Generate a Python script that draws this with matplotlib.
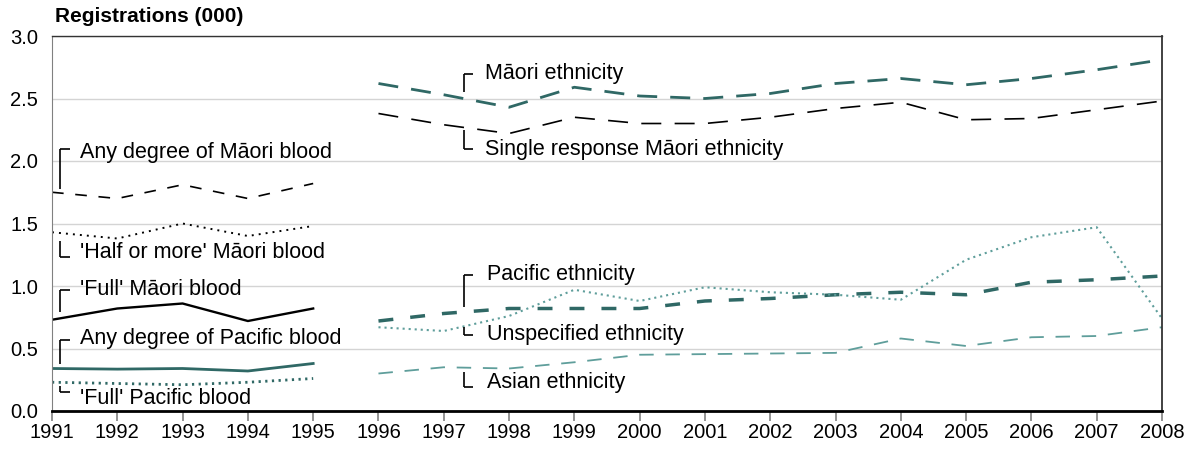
import matplotlib
matplotlib.use('agg')
import matplotlib.pyplot as plt

plt.rcParams['font.family'] = ['Liberation Sans', 'DejaVu Sans']

# 1991-1995 blood-degree series
years_a = [1991, 1992, 1993, 1994, 1995]
maori_any = [1.75, 1.70, 1.81, 1.70, 1.82]
maori_half = [1.43, 1.38, 1.50, 1.40, 1.48]
maori_full = [0.73, 0.82, 0.86, 0.72, 0.82]
pacific_any = [0.34, 0.335, 0.34, 0.32, 0.38]
pacific_full = [0.23, 0.22, 0.21, 0.23, 0.26]

# 1996-2008 ethnicity series
years_b = list(range(1996, 2009))
maori_eth = [2.62, 2.53, 2.43, 2.59, 2.52, 2.50, 2.54, 2.62, 2.66, 2.61, 2.66, 2.73, 2.81]
maori_single = [2.38, 2.29, 2.22, 2.35, 2.30, 2.30, 2.35, 2.42, 2.47, 2.33, 2.34, 2.41, 2.48]
pacific_eth = [0.72, 0.78, 0.82, 0.82, 0.82, 0.88, 0.90, 0.93, 0.95, 0.93, 1.03, 1.05, 1.08]
unspecified = [0.67, 0.64, 0.76, 0.97, 0.88, 0.99, 0.95, 0.93, 0.89, 1.21, 1.39, 1.47, 0.74]
asian_eth = [0.30, 0.35, 0.34, 0.39, 0.45, 0.455, 0.46, 0.465, 0.58, 0.52, 0.59, 0.60, 0.67]

dark = '#2f6865'
light = '#5f9e9b'

fig = plt.figure(figsize=(11.94, 4.54), dpi=100)
ax = fig.add_axes([52/1194, 1 - 411/454, 1110/1194, 375/454])

ax.plot(years_a, maori_any, color='black', lw=1.2, dashes=(7, 7))
ax.plot(years_a, maori_half, color='black', lw=1.4, dashes=(1, 2.6))
ax.plot(years_a, maori_full, color='black', lw=1.7)
ax.plot(years_a, pacific_any, color=dark, lw=2.0)
ax.plot(years_a, pacific_full, color=dark, lw=2.0, dashes=(0.8, 1.6))

ax.plot(years_b, maori_eth, color=dark, lw=2.0, dashes=(7.2, 4.7))
ax.plot(years_b, maori_single, color='black', lw=1.2, dashes=(12, 8))
ax.plot(years_b, pacific_eth, color=dark, lw=2.5, dashes=(4.3, 4.9))
ax.plot(years_b, unspecified, color=light, lw=1.5, dashes=(1, 1.9))
ax.plot(years_b, asian_eth, color=light, lw=1.3, dashes=(8, 6.5))

# bracket labels: text, bracket x, bracket low, bracket high, tick end ('top'/'bottom'), text x, text y
labels = [
    ("Any degree of Māori blood", 1991.13, 1.78, 2.10, 'top', 1991.43, 2.07),
    ("'Half or more' Māori blood", 1991.13, 1.23, 1.36, 'bottom', 1991.43, 1.27),
    ("'Full' Māori blood", 1991.13, 0.79, 0.97, 'top', 1991.43, 0.97),
    ("Any degree of Pacific blood", 1991.13, 0.38, 0.57, 'top', 1991.43, 0.58),
    ("'Full' Pacific blood", 1991.13, 0.15, 0.20, 'bottom', 1991.43, 0.10),
    ("Māori ethnicity", 1997.31, 2.55, 2.70, 'top', 1997.63, 2.70),
    ("Single response Māori ethnicity", 1997.31, 2.10, 2.25, 'bottom', 1997.63, 2.09),
    ("Pacific ethnicity", 1997.31, 0.83, 1.09, 'top', 1997.66, 1.09),
    ("Unspecified ethnicity", 1997.31, 0.61, 0.67, 'bottom', 1997.66, 0.61),
    ("Asian ethnicity", 1997.31, 0.19, 0.31, 'bottom', 1997.66, 0.23),
]
for txt, bx, lo, hi, end, tx, ty in labels:
    ax.plot([bx, bx], [lo, hi], color='black', lw=1.2, solid_capstyle='butt')
    yy = hi if end == 'top' else lo
    ax.plot([bx, bx + 0.14], [yy, yy], color='black', lw=1.2, solid_capstyle='butt')
    ax.text(tx, ty, txt, fontsize=15.5, va='center', ha='left', color='black')

ax.set_xlim(1991, 2008)
ax.set_ylim(0, 3.0)
ax.set_xticks(range(1991, 2009))
ax.set_yticks([0, 0.5, 1.0, 1.5, 2.0, 2.5, 3.0])
ax.set_yticklabels(['0.0', '0.5', '1.0', '1.5', '2.0', '2.5', '3.0'])
ax.yaxis.grid(True, color='#d4d4d4', lw=1)
ax.set_axisbelow(True)
ax.tick_params(axis='x', length=7.5, width=1.2, color='#808080', labelsize=14.5, pad=1, direction='out')
ax.tick_params(axis='y', length=0, labelsize=14.5, pad=10)

ax.spines['left'].set_color('#808080')
ax.spines['top'].set_color('#333333')
ax.spines['right'].set_color('#333333')
ax.spines['bottom'].set_color('black')
ax.spines['bottom'].set_linewidth(2)
ax.spines['right'].set_linewidth(1.3)
ax.spines['top'].set_linewidth(1.0)

fig.text(55/1194, 1 - 16/454, 'Registrations (000)', fontsize=15, fontweight='bold', va='center', ha='left')

plt.savefig('out.png', dpi=100)
